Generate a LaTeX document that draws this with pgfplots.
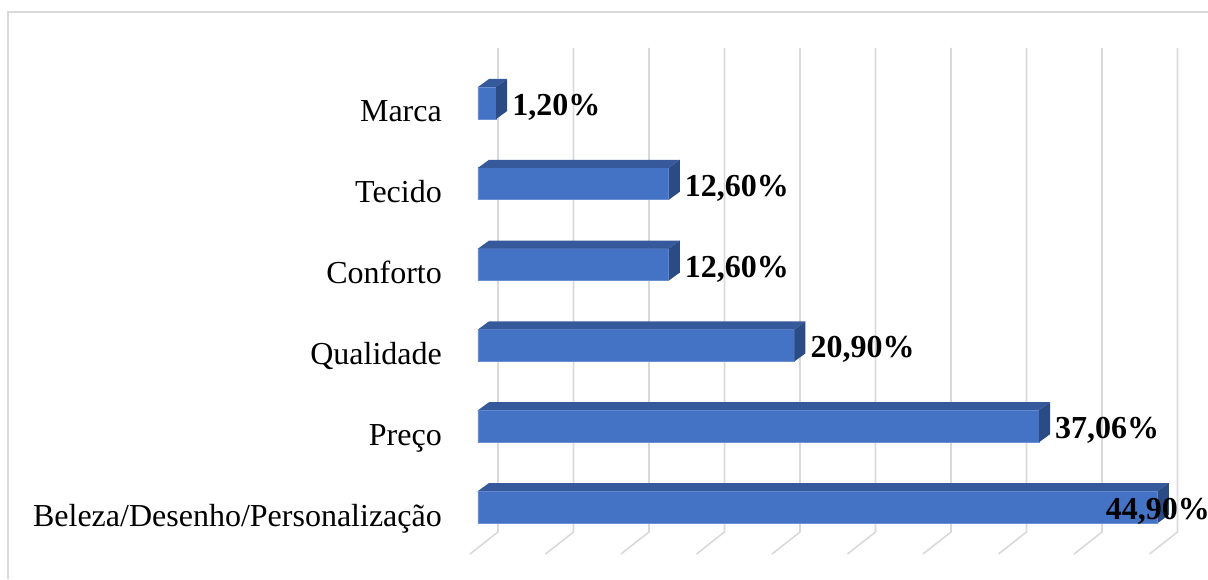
\documentclass[border=0pt]{standalone}
\usepackage{fontspec}
\setmainfont{Liberation Serif}
\usepackage{pgfplots}
\pgfplotsset{compat=1.18}
\definecolor{barfront}{HTML}{4472C4}
\definecolor{bartop}{HTML}{36599C}
\definecolor{barside}{HTML}{2B4B85}
\definecolor{baredge}{HTML}{6A8FD2}
\definecolor{gridc}{HTML}{D9D9D9}
\begin{document}
\begin{tikzpicture}
\begin{axis}[
  at={(478pt,-0.72pt)}, anchor=south west,
  scale only axis, width=726.72pt, height=549.44pt,
  xmin=0, xmax=48, ymin=-0.9, ymax=5.9,
  enlargelimits=false, clip=false,
  axis line style={draw=none},
  major tick length=0pt,
  xtick=\empty,
  ytick={0,1,2,3,4,5},
  yticklabels={Beleza/Desenho/Personalização,Preço,Qualidade,Conforto,Tecido,Marca},
  yticklabel style={anchor=base east, inner sep=0pt, xshift=-36pt, yshift=-19pt,
    font=\fontsize{32}{36}\selectfont},
  unbounded coords=jump,
]
% gridlines (back wall + floor)
\addplot[gridc, line width=1.6pt, mark=none] table[x=x,y=y] {
x y
1.321 5.681
1.321 -0.309
-0.528 -0.582
nan nan
6.308 5.681
6.308 -0.309
4.459 -0.582
nan nan
11.295 5.681
11.295 -0.309
9.446 -0.582
nan nan
16.282 5.681
16.282 -0.309
14.433 -0.582
nan nan
21.269 5.681
21.269 -0.309
19.420 -0.582
nan nan
26.256 5.681
26.256 -0.309
24.407 -0.582
nan nan
31.243 5.681
31.243 -0.309
29.394 -0.582
nan nan
36.230 5.681
36.230 -0.309
34.381 -0.582
nan nan
41.217 5.681
41.217 -0.309
39.368 -0.582
nan nan
46.204 5.681
46.204 -0.309
44.355 -0.582
};
% front faces
\addplot[xbar, bar width=32pt, fill=barfront, draw=baredge, line width=0.6pt] coordinates {
(44.9,0) (37.06,1) (20.9,2) (12.6,3) (12.6,4) (1.2,5)};
% top faces
\addplot[fill=bartop, draw=none, mark=none] coordinates {(0,0.198)(44.9,0.198)(45.627,0.297)(0.727,0.297)} -- cycle;
\addplot[fill=bartop, draw=none, mark=none] coordinates {(0,1.198)(37.06,1.198)(37.787,1.297)(0.727,1.297)} -- cycle;
\addplot[fill=bartop, draw=none, mark=none] coordinates {(0,2.198)(20.9,2.198)(21.627,2.297)(0.727,2.297)} -- cycle;
\addplot[fill=bartop, draw=none, mark=none] coordinates {(0,3.198)(12.6,3.198)(13.327,3.297)(0.727,3.297)} -- cycle;
\addplot[fill=bartop, draw=none, mark=none] coordinates {(0,4.198)(12.6,4.198)(13.327,4.297)(0.727,4.297)} -- cycle;
\addplot[fill=bartop, draw=none, mark=none] coordinates {(0,5.198)(1.2,5.198)(1.927,5.297)(0.727,5.297)} -- cycle;
% side faces
\addplot[fill=barside, draw=none, mark=none] coordinates {(44.9,-0.198)(44.9,0.198)(45.627,0.297)(45.627,-0.099)} -- cycle;
\addplot[fill=barside, draw=none, mark=none] coordinates {(37.06,0.802)(37.06,1.198)(37.787,1.297)(37.787,0.901)} -- cycle;
\addplot[fill=barside, draw=none, mark=none] coordinates {(20.9,1.802)(20.9,2.198)(21.627,2.297)(21.627,1.901)} -- cycle;
\addplot[fill=barside, draw=none, mark=none] coordinates {(12.6,2.802)(12.6,3.198)(13.327,3.297)(13.327,2.901)} -- cycle;
\addplot[fill=barside, draw=none, mark=none] coordinates {(12.6,3.802)(12.6,4.198)(13.327,4.297)(13.327,3.901)} -- cycle;
\addplot[fill=barside, draw=none, mark=none] coordinates {(1.2,4.802)(1.2,5.198)(1.927,5.297)(1.927,4.901)} -- cycle;
% value labels
\addplot[only marks, mark=o, mark size=0pt, draw=none,
  nodes near coords, point meta=explicit symbolic,
  nodes near coords style={anchor=base west, inner sep=0pt, text=black,
    font=\bfseries\fontsize{32}{36}\selectfont}]
  table[x=x, y=y, meta=l] {
x y l
41.45 -0.155 44,90\%
38.11 0.845 37,06\%
21.95 1.845 20,90\%
13.65 2.845 12,60\%
13.65 3.845 12,60\%
2.25 4.845 1,20\%
};
\end{axis}
\draw[gridc, line width=1.5pt] (8pt,0pt) -- (8pt,567pt) -- (1210pt,567pt);
\pgfresetboundingbox
\useasboundingbox (0pt,0pt) rectangle (1208pt,579pt);
\end{tikzpicture}
\end{document}
